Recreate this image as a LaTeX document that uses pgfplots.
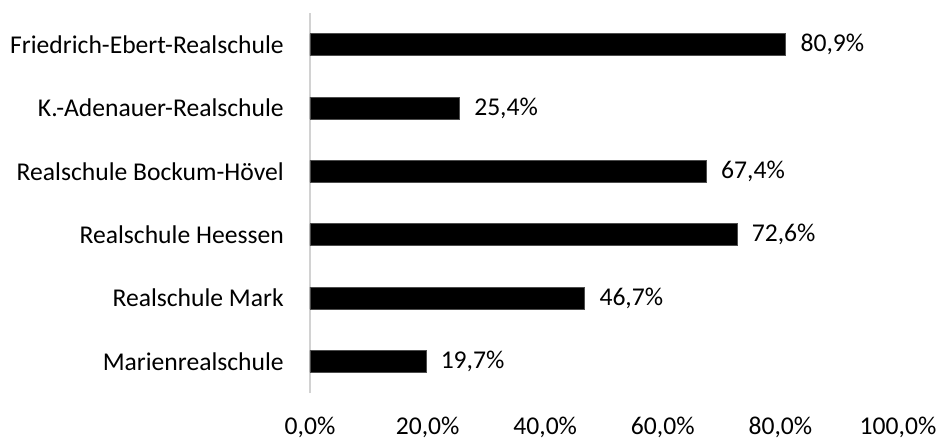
\documentclass[border=0pt]{standalone}
\usepackage{pgfplots}
\pgfplotsset{compat=1.18}
\usepackage{fontspec}
\setmainfont{Carlito}

\begin{document}
\fontsize{19.2}{23}\selectfont
\begin{tikzpicture}
\begin{axis}[
    scale only axis,
    width=441pt, height=285pt,
    xbar,
    bar width=16.5pt,
    xmin=0, xmax=100,
    ymin=-0.5, ymax=5.5,
    axis lines=left,
    x axis line style={draw=none},
    y axis line style={draw=gray!35, line width=1pt, -},
    major tick length=0pt,
    xtick={0,20,40,60,80,100},
    xticklabels={{0,0\%},{20,0\%},{40,0\%},{60,0\%},{80,0\%},{100,0\%}},
    ytick={0,1,2,3,4,5},
    yticklabels={Marienrealschule,Realschule Mark,Realschule Heessen,Realschule Bockum-Hövel,K.-Adenauer-Realschule,Friedrich-Ebert-Realschule},
    xticklabel style={inner sep=0pt, anchor=north, yshift=-17.5pt},
    yticklabel style={inner sep=0pt, anchor=east, xshift=-19.5pt},
    /pgf/number format/assume math mode=true,
    tick label style={font=\fontsize{19.2}{23}\selectfont},
    nodes near coords,
    point meta=explicit symbolic,
    every node near coord/.append style={font=\fontsize{19.2}{23}\selectfont, inner sep=0pt, anchor=west, xshift=11pt, black},
]
\addplot[fill=black, draw=gray!60!black] coordinates {
    (19.7,0) [19,7\%]
    (46.7,1) [46,7\%]
    (72.6,2) [72,6\%]
    (67.4,3) [67,4\%]
    (25.4,4) [25,4\%]
    (80.9,5) [80,9\%]
};
\end{axis}
\useasboundingbox (-232.5pt,-34.5pt) rectangle (470.25pt,294.75pt);
\end{tikzpicture}
\end{document}
